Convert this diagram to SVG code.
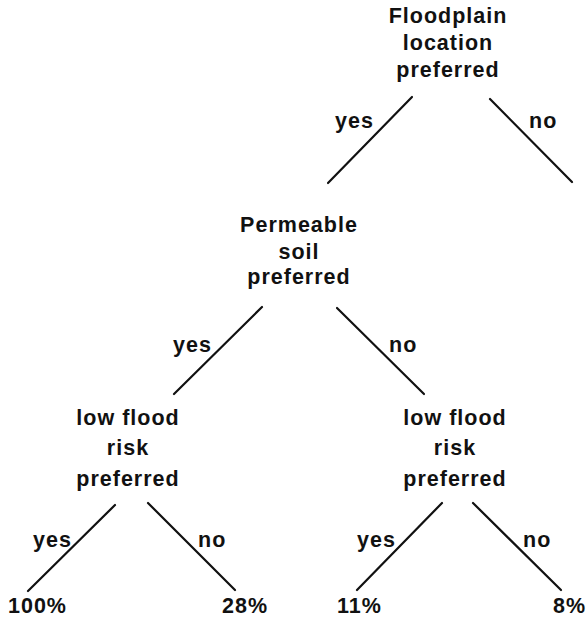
<svg xmlns="http://www.w3.org/2000/svg" width="588" height="619" viewBox="0 0 588 619">
<style>
text{font-family:"Liberation Sans",Arial,sans-serif;font-weight:bold;font-size:21.5px;fill:#111;letter-spacing:1px}
.n{text-anchor:middle}
line{stroke:#111;stroke-width:2.2;stroke-linecap:round}
</style>
<rect width="588" height="619" fill="#fff"/>
<g id="connectors">
<line x1="412" y1="97" x2="328" y2="183"/>
<line x1="490" y1="99" x2="572" y2="182"/>
<line x1="262" y1="307" x2="174" y2="394"/>
<line x1="337" y1="308" x2="424" y2="394"/>
<line x1="115" y1="505" x2="28" y2="591"/>
<line x1="148" y1="503" x2="235" y2="590"/>
<line x1="442" y1="503" x2="357" y2="590"/>
<line x1="473" y1="503" x2="561" y2="590"/>
<text x="335" y="128">yes</text>
<text x="529" y="128">no</text>
<text x="173" y="352">yes</text>
<text x="389" y="352">no</text>
<text x="33" y="547">yes</text>
<text x="198" y="547">no</text>
<text x="357" y="547">yes</text>
<text x="523" y="547">no</text>
</g>
<g id="n-floodplain" class="n"><text x="448" y="23">Floodplain</text><text x="448" y="50">location</text><text x="448" y="77">preferred</text></g>
<g id="n-permeable" class="n"><text x="299" y="232">Permeable</text><text x="299" y="259">soil</text><text x="299" y="284">preferred</text></g>
<g id="n-risk-left" class="n"><text x="128" y="425">low flood</text><text x="128" y="455">risk</text><text x="128" y="486">preferred</text></g>
<g id="n-risk-right" class="n"><text x="455" y="425">low flood</text><text x="455" y="455">risk</text><text x="455" y="486">preferred</text></g>
<g id="leaf-100"><text x="8" y="613">100%</text></g>
<g id="leaf-28"><text x="222" y="613">28%</text></g>
<g id="leaf-11"><text x="337" y="613">11%</text></g>
<g id="leaf-8"><text x="553" y="613">8%</text></g>
</svg>
